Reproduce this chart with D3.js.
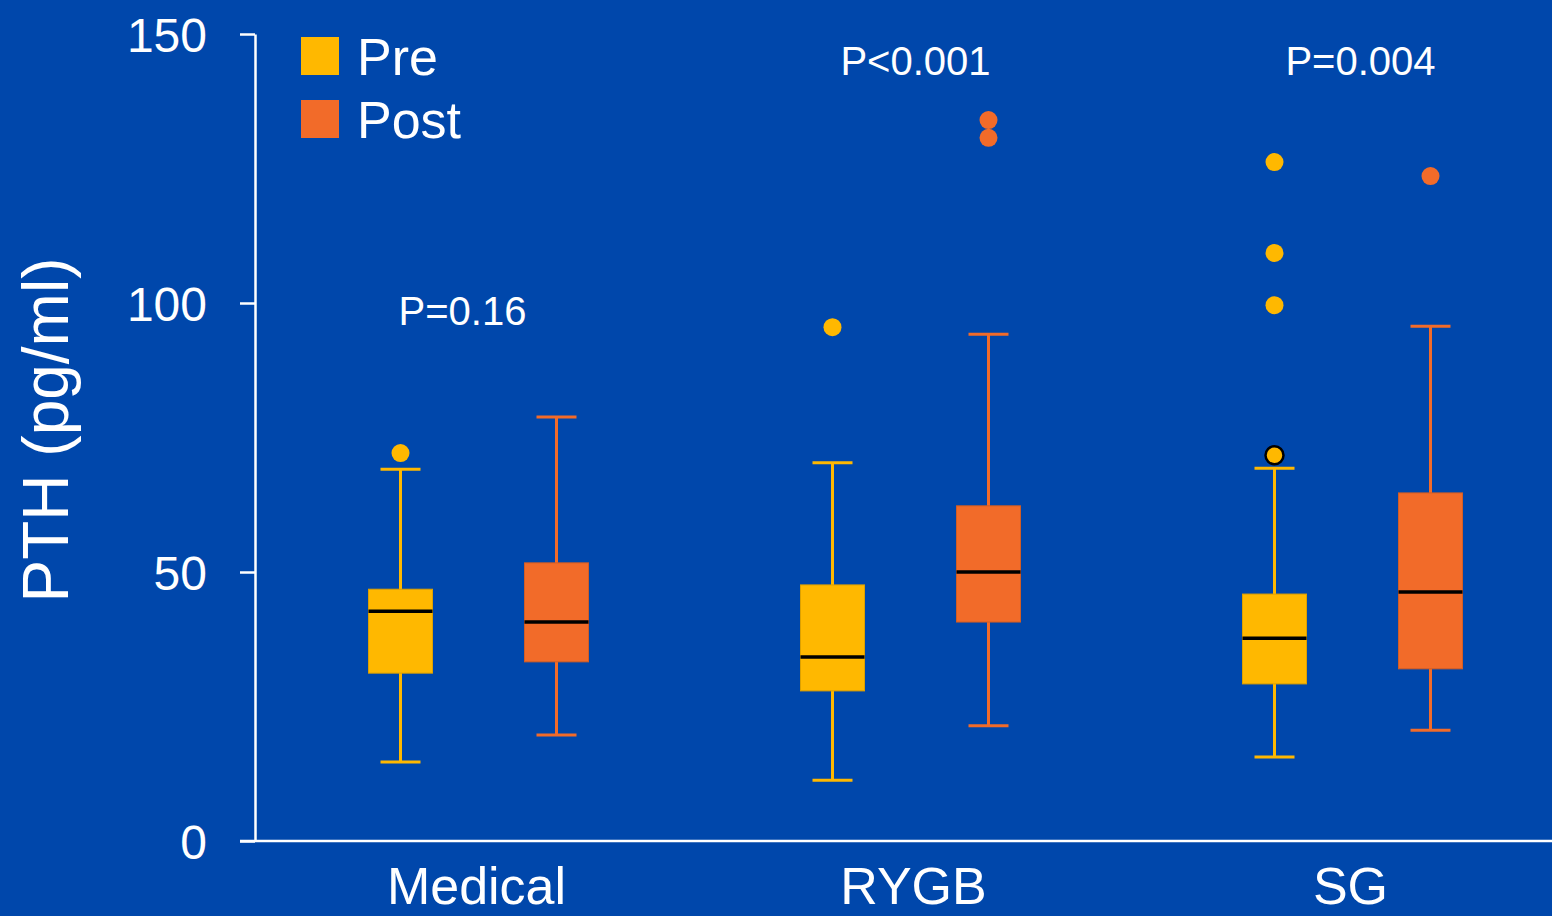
<!DOCTYPE html>
<html lang="en">
<head>
  <meta charset="utf-8">
  <title>PTH box plot</title>
  <script src="https://d3js.org/d3.v7.min.js"></script>
  <style>
    html, body { margin: 0; padding: 0; background: #0047ab; }
    svg { display: block; font-family: "Liberation Sans", Arial, sans-serif; }
    .axis path, .axis line { stroke: #fff; stroke-width: 2.5; }
    .axis text { fill: #fff; font-size: 48px; }
  </style>
</head>
<body>
<svg id="chart" width="1552" height="916"></svg>
<script>
  // Data
  const groups = ['Medical', 'RYGB', 'SG'];
  const phases = ['Pre', 'Post'];
  const pValues = ['P=0.16', 'P<0.001', 'P=0.004'];
  const pValueY = [98.5, 145, 145];

  // [low whisker, Q1, median, Q3, high whisker] per group, per phase
  const preStats = [
    [14.7, 31.2, 42.7, 46.8, 69.1],
    [11.3, 27.9, 34.2, 47.6, 70.3],
    [15.6, 29.2, 37.7, 45.9, 69.3]
  ];
  const postStats = [
    [19.7, 33.3, 40.7, 51.7, 78.8],
    [21.4, 40.7, 50.0, 62.3, 94.2],
    [20.6, 32.0, 46.3, 64.7, 95.7]
  ];
  const preOutliers = [[72.1], [95.5], [126.2, 109.3, 99.6, 71.7]];
  const postOutliers = [[], [134.0, 130.7], [123.6]];
  const yTicks = [0, 50, 100, 150];

  const colors = { Pre: '#ffb800', Post: '#f26b29' };

  const svg = d3.select('#chart');
  const y = d3.scaleLinear().domain([0, 150]).range([841, 34]);
  const x = d3.scaleBand().domain(groups).range([260, 1571]);
  const xi = d3.scalePoint().domain(phases).range([-78, 78]);
  // small per-group nudge so the boxes sit where the original put them
  const nudge = { Medical: 0, RYGB: -5, SG: 0 };
  const mid = g => x(g) + x.bandwidth() / 2;
  const gx = g => mid(g) + nudge[g];

  // y axis
  svg.append('g')
    .attr('class', 'axis')
    .attr('transform', 'translate(255,0)')
    .call(d3.axisLeft(y).tickValues(yTicks).tickSize(15).tickSizeOuter(0).tickPadding(33))
    .call(g => g.selectAll('text').attr('dy', '0.36em'));

  // x axis line
  svg.append('line')
    .attr('x1', 240).attr('x2', 1552)
    .attr('y1', y(0)).attr('y2', y(0))
    .attr('stroke', '#fff').attr('stroke-width', 2.5);

  // category labels
  svg.selectAll('text.cat')
    .data(groups)
    .enter().append('text')
      .attr('class', 'cat')
      .attr('x', d => mid(d) - 2)
      .attr('y', 904)
      .attr('text-anchor', 'middle')
      .attr('fill', '#fff')
      .attr('font-size', 52)
      .text(d => d);

  // y label
  svg.append('text')
    .attr('transform', 'translate(68,430) rotate(-90)')
    .attr('text-anchor', 'middle')
    .attr('fill', '#fff')
    .attr('font-size', 64)
    .text('PTH (pg/ml)');

  // flatten box data
  const boxes = [];
  groups.forEach((g, i) => {
    boxes.push({ group: g, phase: 'Pre', s: preStats[i], out: preOutliers[i] });
    boxes.push({ group: g, phase: 'Post', s: postStats[i], out: postOutliers[i] });
  });
  const cx = d => gx(d.group) + xi(d.phase);
  const boxW = 64, capW = 40;

  const b = svg.selectAll('g.box')
    .data(boxes)
    .enter().append('g')
      .attr('class', 'box');

  b.append('line')
    .attr('x1', cx).attr('x2', cx)
    .attr('y1', d => y(d.s[0])).attr('y2', d => y(d.s[4]))
    .attr('stroke', d => colors[d.phase]).attr('stroke-width', 3);

  b.selectAll('line.cap')
    .data(d => [d.s[0], d.s[4]].map(v => ({ v, d })))
    .enter().append('line')
      .attr('class', 'cap')
      .attr('x1', e => cx(e.d) - capW / 2).attr('x2', e => cx(e.d) + capW / 2)
      .attr('y1', e => y(e.v)).attr('y2', e => y(e.v))
      .attr('stroke', e => colors[e.d.phase]).attr('stroke-width', 3);

  b.append('rect')
    .attr('x', d => cx(d) - boxW / 2)
    .attr('y', d => y(d.s[3]))
    .attr('width', boxW)
    .attr('height', d => y(d.s[1]) - y(d.s[3]))
    .attr('fill', d => colors[d.phase])
    .attr('stroke', d => d3.color(colors[d.phase]).darker(0.4))
    .attr('stroke-width', 1);

  b.append('line')
    .attr('x1', d => cx(d) - boxW / 2).attr('x2', d => cx(d) + boxW / 2)
    .attr('y1', d => y(d.s[2])).attr('y2', d => y(d.s[2]))
    .attr('stroke', '#000').attr('stroke-width', 3.5);

  b.selectAll('circle')
    .data(d => d.out.map((v, k) => ({ v, d, k })))
    .enter().append('circle')
      .attr('cx', e => cx(e.d))
      .attr('cy', e => y(e.v))
      .attr('r', 9)
      .attr('fill', e => colors[e.d.phase])
      // the lowest SG pre outlier has a black ring
      .attr('stroke', e => (e.d.group === 'SG' && e.d.phase === 'Pre' && e.k === 3) ? '#000' : 'none')
      .attr('stroke-width', 2.5);

  // p values
  svg.selectAll('text.p')
    .data(pValues)
    .enter().append('text')
      .attr('class', 'p')
      .attr('x', (d, i) => gx(groups[i]) + [-16, 5, 8][i])
      .attr('y', (d, i) => y(pValueY[i]) + 14)
      .attr('text-anchor', 'middle')
      .attr('fill', '#fff')
      .attr('font-size', 40)
      .text(d => d);

  // legend
  const legend = svg.append('g').attr('transform', 'translate(301,37)');
  const li = legend.selectAll('g')
    .data(phases)
    .enter().append('g')
      .attr('transform', (d, i) => `translate(0,${i * 63})`);
  li.append('rect')
    .attr('width', 38).attr('height', 38)
    .attr('fill', d => colors[d]);
  li.append('text')
    .attr('x', 56).attr('y', 38)
    .attr('fill', '#fff')
    .attr('font-size', 52)
    .text(d => d);
</script>
</body>
</html>
